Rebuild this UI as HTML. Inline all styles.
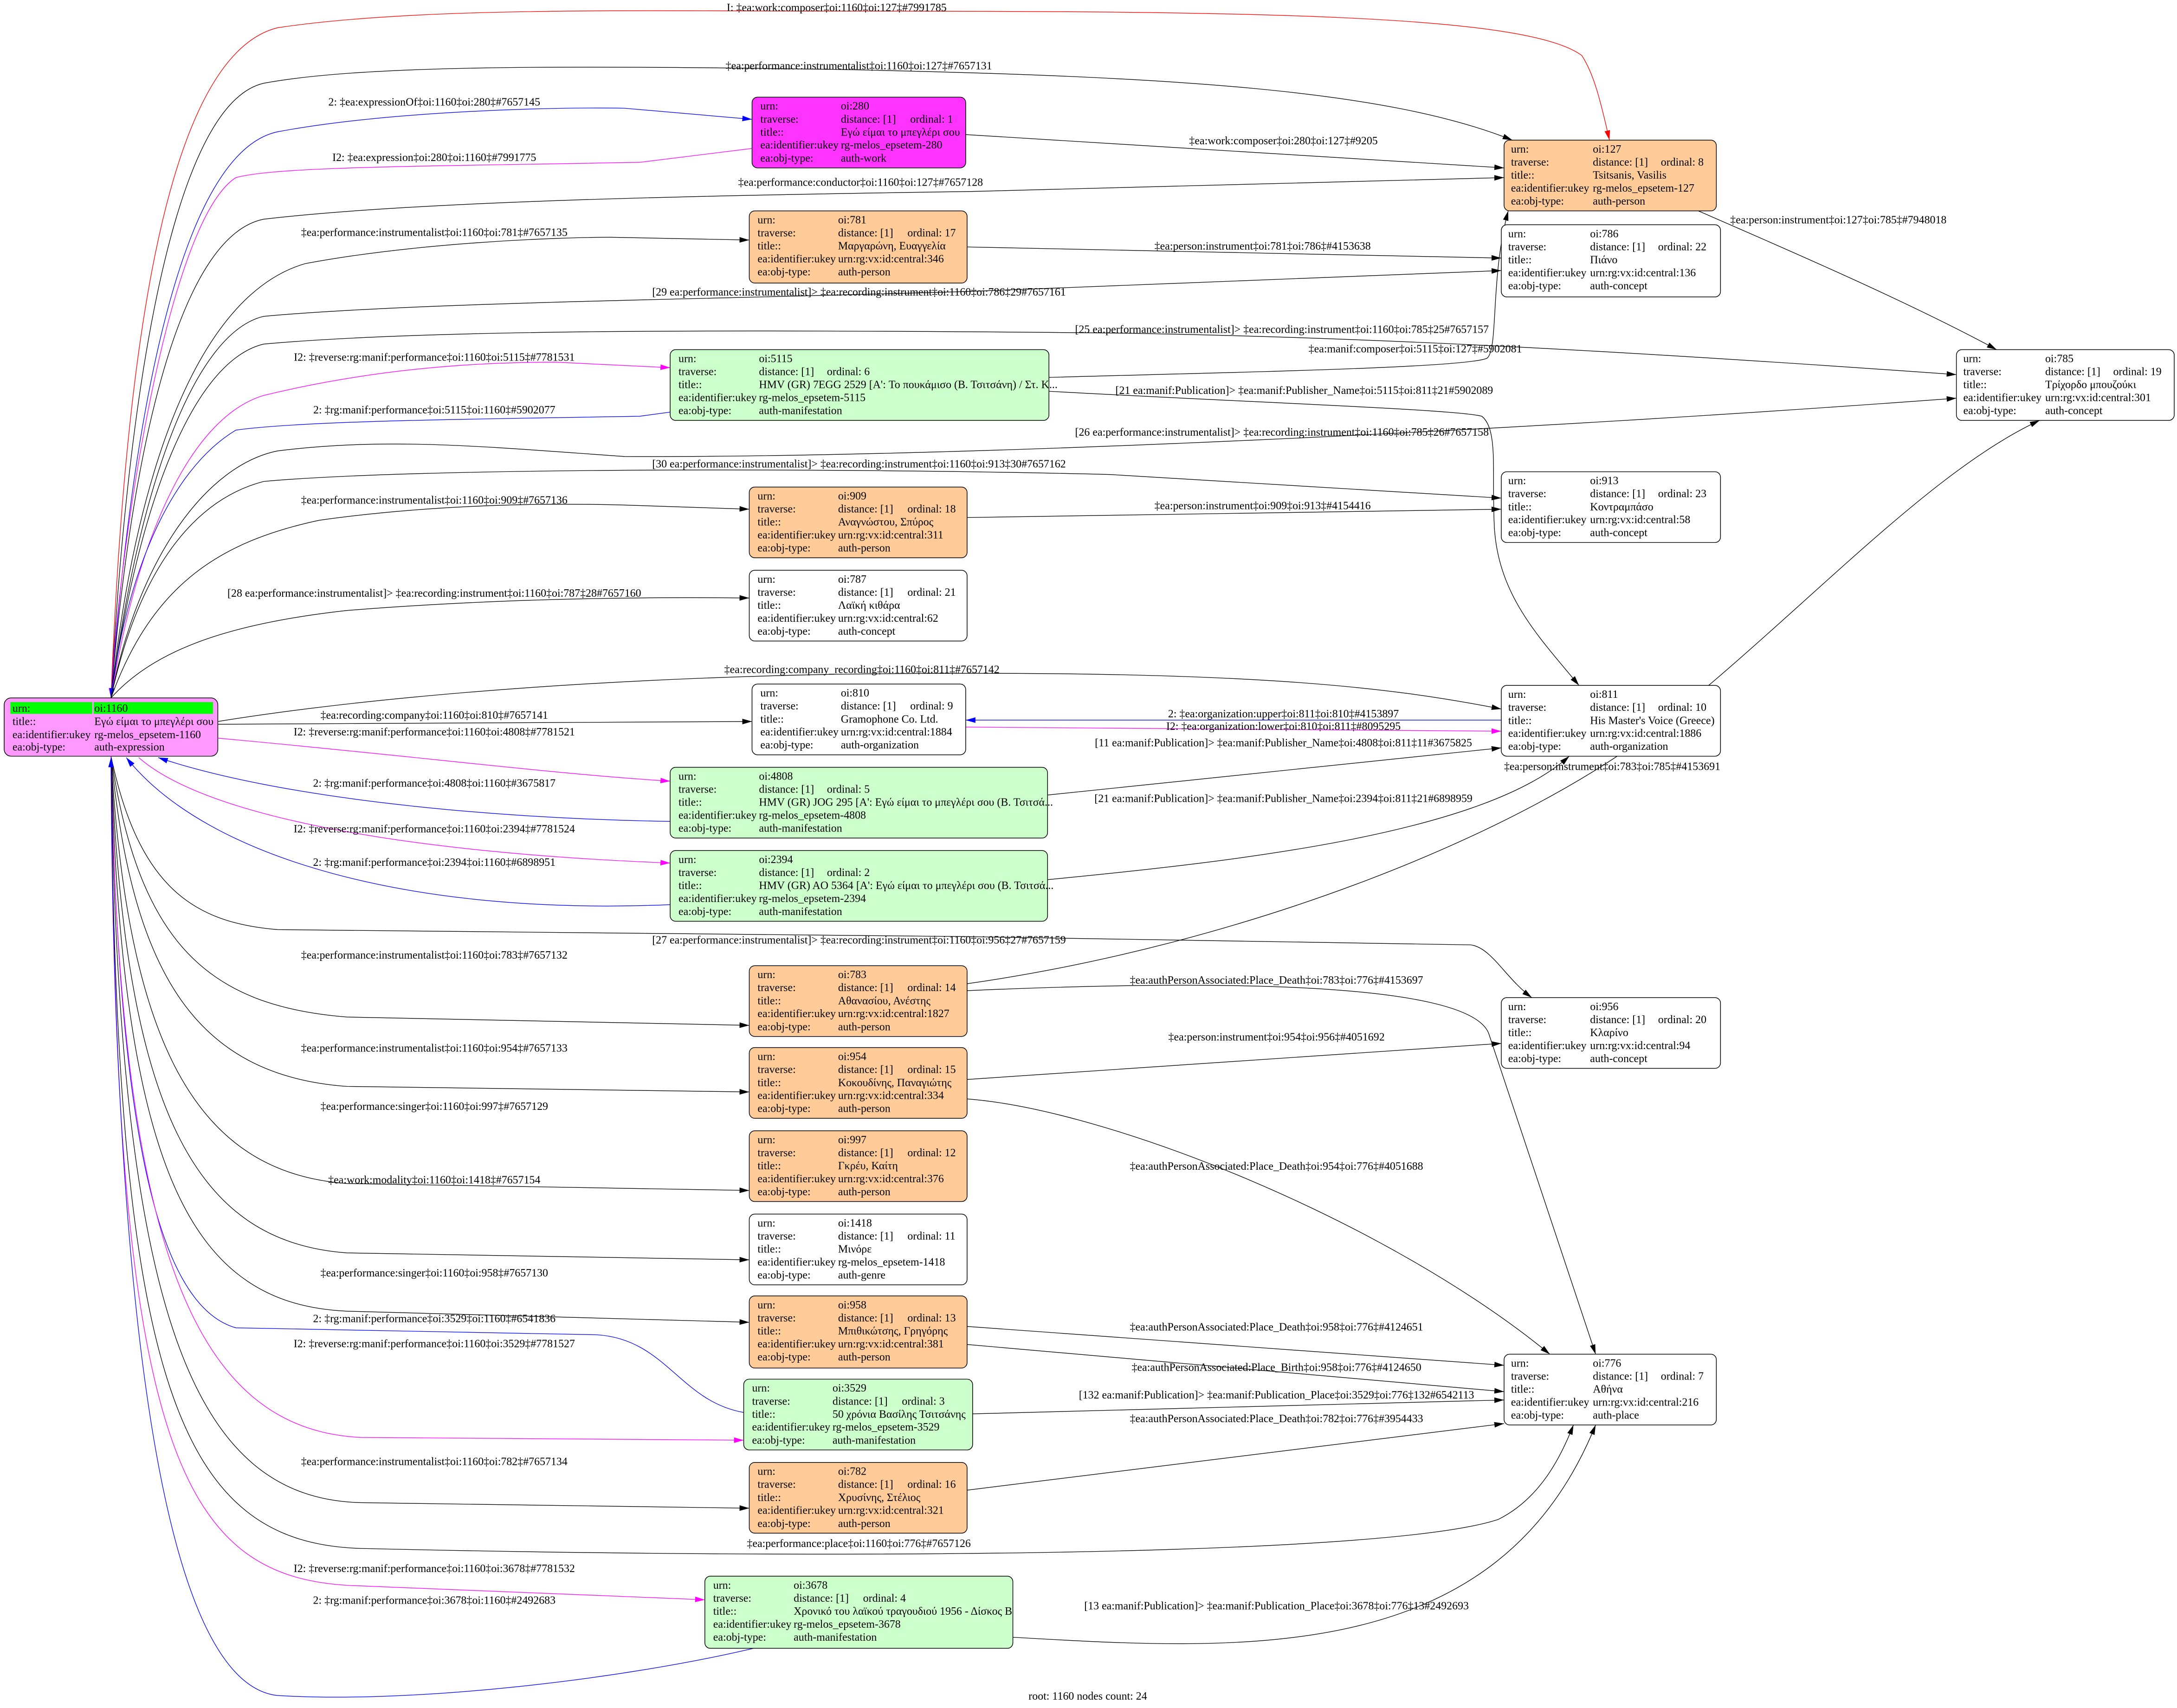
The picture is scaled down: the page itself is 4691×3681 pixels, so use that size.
<!DOCTYPE html>
<html><head><meta charset="utf-8">
<style>
html,body{margin:0;padding:0;background:#fff;}
svg{display:block;}
text{font-family:"Liberation Serif","DejaVu Serif","Noto Serif CJK SC",serif;font-size:8px;fill:#000;}
.e{fill:none;stroke:#000;stroke-width:0.45;}
.eb{fill:none;stroke:#0000ff;stroke-width:0.45;}
.em{fill:none;stroke:#ff00ff;stroke-width:0.45;}
.er{fill:none;stroke:#ff0000;stroke-width:0.45;}
.n{stroke:#000;stroke-width:0.5;}
.m{text-anchor:middle;}
.s{text-anchor:end;}
</style></head><body>
<svg xmlns="http://www.w3.org/2000/svg" width="4691" height="3681" viewBox="0 0 1569 1231" preserveAspectRatio="none">
<defs>
<marker id="ak" markerUnits="userSpaceOnUse" markerWidth="7" markerHeight="4" refX="7" refY="2" orient="auto"><path d="M0,0 L7,2 L0,4z" fill="#000"/></marker>
<marker id="ab" markerUnits="userSpaceOnUse" markerWidth="7" markerHeight="4" refX="7" refY="2" orient="auto"><path d="M0,0 L7,2 L0,4z" fill="#0000ff"/></marker>
<marker id="am" markerUnits="userSpaceOnUse" markerWidth="7" markerHeight="4" refX="7" refY="2" orient="auto"><path d="M0,0 L7,2 L0,4z" fill="#ff00ff"/></marker>
<marker id="ar" markerUnits="userSpaceOnUse" markerWidth="7" markerHeight="4" refX="7" refY="2" orient="auto"><path d="M0,0 L7,2 L0,4z" fill="#ff0000"/></marker>
</defs>
<rect width="1569" height="1231" fill="#fff"/>

<!-- edges -->
<path class="er" marker-end="url(#ar)" d="M80,503 C90,250 120,40 200,20 C300,5 450,8 600,8 C900,8 1100,10 1140,40 C1150,55 1155,80 1160,101"/>
<path class="e" marker-end="url(#ak)" d="M80,503 C92,280 125,75 190,60 C260,47 400,47 600,50 C850,55 1000,65 1090,101"/>
<path class="eb" marker-end="url(#ab)" d="M80,503 C95,300 130,110 200,95 C280,80 400,77 450,78 L542,86"/>
<path class="em" marker-end="url(#am)" d="M542,107 L461,117 C300,120 200,120 170,128 C120,160 85,400 80,503"/>
<path class="e" marker-end="url(#ak)" d="M80,503 C95,320 130,170 190,158 C300,145 500,141 700,138 L1084,128"/>
<path class="e" marker-end="url(#ak)" d="M80,503 C100,320 150,210 220,190 C300,175 400,171 440,171 L540,173"/>
<path class="e" marker-end="url(#ak)" d="M80,503 C100,350 140,240 190,228 C300,218 500,216 700,210 L1082,195"/>
<path class="e" marker-end="url(#ak)" d="M80,503 C100,360 140,260 190,248 C300,238 500,237 800,240 C1000,243 1200,255 1410,270"/>
<path class="em" marker-end="url(#am)" d="M80,503 C100,380 140,300 190,285 C260,268 330,261 400,261 L483,265"/>
<path class="eb" marker-end="url(#ab)" d="M483,297 L461,300 C350,302 220,303 170,310 C120,340 90,420 80,503"/>
<path class="e" marker-end="url(#ak)" d="M80,503 C100,400 150,335 200,325 C280,315 350,322 450,329 C700,330 1100,310 1410,287"/>
<path class="e" marker-end="url(#ak)" d="M80,503 C100,410 140,360 190,347 C300,337 600,337 800,342 L1082,359"/>
<path class="e" marker-end="url(#ak)" d="M80,503 C110,420 160,390 230,375 C300,365 380,362 450,364 L540,367"/>
<path class="e" marker-end="url(#ak)" d="M80,503 C110,470 160,450 250,440 C350,432 450,430 540,431"/>
<path class="e" marker-end="url(#ak)" d="M157,520 C250,505 400,490 600,486 C900,482 1000,495 1082,511"/>
<path class="e" marker-end="url(#ak)" d="M157,522 L542,520"/>
<path class="em" marker-end="url(#am)" d="M157,532 C300,545 400,558 483,563"/>
<path class="eb" marker-end="url(#ab)" d="M483,592 C350,590 200,575 114,546"/>
<path class="em" marker-end="url(#am)" d="M100,546 C150,590 300,615 483,622"/>
<path class="eb" marker-end="url(#ab)" d="M483,652 C300,660 150,620 91,546"/>
<path class="e" marker-end="url(#ak)" d="M80,545 C100,640 140,665 200,670 C400,672 800,675 1060,681 C1075,683 1085,705 1104,719"/>
<path class="e" marker-end="url(#ak)" d="M80,545 C100,680 150,725 250,733 L540,739"/>
<path class="e" marker-end="url(#ak)" d="M80,545 C95,700 140,775 250,783 L540,787"/>
<path class="e" marker-end="url(#ak)" d="M80,545 C92,750 140,845 250,853 L540,858"/>
<path class="e" marker-end="url(#ak)" d="M80,545 C90,800 140,895 250,903 L540,908"/>
<path class="e" marker-end="url(#ak)" d="M80,545 C88,850 140,940 250,945 L540,953"/>
<path class="eb" marker-end="url(#ab)" d="M536,1018 C490,1010 480,965 430,962 L170,957 C110,940 85,800 80,546"/>
<path class="em" marker-end="url(#am)" d="M80,545 C86,900 140,1030 260,1036 L536,1038"/>
<path class="e" marker-end="url(#ak)" d="M80,545 C85,950 140,1080 260,1083 L540,1087"/>
<path class="e" marker-end="url(#ak)" d="M80,545 C83,1000 130,1112 260,1116 C600,1124 1000,1122 1080,1095 C1110,1080 1125,1050 1134,1027"/>
<path class="em" marker-end="url(#am)" d="M80,545 C82,1050 130,1140 260,1143 L508,1153"/>
<path class="eb" marker-end="url(#ab)" d="M543,1188 C450,1210 300,1228 200,1222 C110,1212 82,900 80,546"/>

<path class="e" marker-end="url(#ak)" d="M696,97 L1084,121"/>
<path class="e" marker-end="url(#ak)" d="M697,178 L1082,186"/>
<path class="e" marker-end="url(#ak)" d="M697,373 L1082,367"/>
<path class="e" marker-end="url(#ak)" d="M1224,152 C1300,185 1380,220 1439,252"/>
<path class="e" marker-end="url(#ak)" d="M756,272 C900,268 1060,265 1072,258 C1080,250 1074,200 1087,152"/>
<path class="e" marker-end="url(#ak)" d="M756,282 C900,290 1050,295 1068,300 C1080,310 1075,340 1077,380 C1080,430 1110,460 1138,494"/>
<path class="eb" marker-end="url(#ab)" d="M1082,519 L696,519"/>
<path class="em" marker-end="url(#am)" d="M696,524 L1082,527"/>
<path class="e" marker-end="url(#ak)" d="M755,573 L1082,539"/>
<path class="e" marker-end="url(#ak)" d="M755,634 C900,620 1070,600 1131,545"/>
<path class="e" marker-end="url(#ak)" d="M697,709 C900,680 1100,600 1200,520 C1300,440 1390,340 1470,303"/>
<path class="e" marker-end="url(#ak)" d="M697,714 C900,705 1060,710 1073,745 L1150,976"/>
<path class="e" marker-end="url(#ak)" d="M697,778 L1082,752"/>
<path class="e" marker-end="url(#ak)" d="M697,792 C800,800 1000,880 1117,976"/>
<path class="e" marker-end="url(#ak)" d="M697,956 L1084,984"/>
<path class="e" marker-end="url(#ak)" d="M697,969 L1084,1003"/>
<path class="e" marker-end="url(#ak)" d="M701,1019 L1084,1009"/>
<path class="e" marker-end="url(#ak)" d="M697,1074 L1084,1026"/>
<path class="e" marker-end="url(#ak)" d="M730,1180 C900,1190 1080,1200 1150,1027"/>

<!-- edge labels -->
<text x="603" y="8" class="m">I: ‡ea:work:composer‡oi:1160‡oi:127‡#7991785</text>
<text x="523" y="50">‡ea:performance:instrumentalist‡oi:1160‡oi:127‡#7657131</text>
<text x="313" y="76" class="m">2: ‡ea:expressionOf‡oi:1160‡oi:280‡#7657145</text>
<text x="313" y="116" class="m">I2: ‡ea:expression‡oi:280‡oi:1160‡#7991775</text>
<text x="532" y="134">‡ea:performance:conductor‡oi:1160‡oi:127‡#7657128</text>
<text x="313" y="170" class="m">‡ea:performance:instrumentalist‡oi:1160‡oi:781‡#7657135</text>
<text x="470" y="213">[29 ea:performance:instrumentalist]&gt; ‡ea:recording:instrument‡oi:1160‡oi:786‡29#7657161</text>
<text x="1073" y="240" class="s">[25 ea:performance:instrumentalist]&gt; ‡ea:recording:instrument‡oi:1160‡oi:785‡25#7657157</text>
<text x="313" y="260" class="m">I2: ‡reverse:rg:manif:performance‡oi:1160‡oi:5115‡#7781531</text>
<text x="313" y="298" class="m">2: ‡rg:manif:performance‡oi:5115‡oi:1160‡#5902077</text>
<text x="1073" y="314" class="s">[26 ea:performance:instrumentalist]&gt; ‡ea:recording:instrument‡oi:1160‡oi:785‡26#7657158</text>
<text x="470" y="337">[30 ea:performance:instrumentalist]&gt; ‡ea:recording:instrument‡oi:1160‡oi:913‡30#7657162</text>
<text x="313" y="363" class="m">‡ea:performance:instrumentalist‡oi:1160‡oi:909‡#7657136</text>
<text x="313" y="430" class="m">[28 ea:performance:instrumentalist]&gt; ‡ea:recording:instrument‡oi:1160‡oi:787‡28#7657160</text>
<text x="522" y="485">‡ea:recording:company_recording‡oi:1160‡oi:811‡#7657142</text>
<text x="925" y="104" class="m">‡ea:work:composer‡oi:280‡oi:127‡#9205</text>
<text x="910" y="180" class="m">‡ea:person:instrument‡oi:781‡oi:786‡#4153638</text>
<text x="1247" y="161">‡ea:person:instrument‡oi:127‡oi:785‡#7948018</text>
<text x="1020" y="254" class="m">‡ea:manif:composer‡oi:5115‡oi:127‡#5902081</text>
<text x="940" y="284" class="m">[21 ea:manif:Publication]&gt; ‡ea:manif:Publisher_Name‡oi:5115‡oi:811‡21#5902089</text>
<text x="910" y="367" class="m">‡ea:person:instrument‡oi:909‡oi:913‡#4154416</text>
<text x="925" y="517" class="m">2: ‡ea:organization:upper‡oi:811‡oi:810‡#4153897</text>
<text x="925" y="526" class="m">I2: ‡ea:organization:lower‡oi:810‡oi:811‡#8095295</text>
<text x="925" y="538" class="m">[11 ea:manif:Publication]&gt; ‡ea:manif:Publisher_Name‡oi:4808‡oi:811‡11#3675825</text>
<text x="1084" y="555">‡ea:person:instrument‡oi:783‡oi:785‡#4153691</text>
<text x="925" y="578" class="m">[21 ea:manif:Publication]&gt; ‡ea:manif:Publisher_Name‡oi:2394‡oi:811‡21#6898959</text>
<text x="313" y="518" class="m">‡ea:recording:company‡oi:1160‡oi:810‡#7657141</text>
<text x="313" y="530" class="m">I2: ‡reverse:rg:manif:performance‡oi:1160‡oi:4808‡#7781521</text>
<text x="313" y="567" class="m">2: ‡rg:manif:performance‡oi:4808‡oi:1160‡#3675817</text>
<text x="313" y="600" class="m">I2: ‡reverse:rg:manif:performance‡oi:1160‡oi:2394‡#7781524</text>
<text x="313" y="624" class="m">2: ‡rg:manif:performance‡oi:2394‡oi:1160‡#6898951</text>
<text x="470" y="680">[27 ea:performance:instrumentalist]&gt; ‡ea:recording:instrument‡oi:1160‡oi:956‡27#7657159</text>
<text x="313" y="691" class="m">‡ea:performance:instrumentalist‡oi:1160‡oi:783‡#7657132</text>
<text x="920" y="709" class="m">‡ea:authPersonAssociated:Place_Death‡oi:783‡oi:776‡#4153697</text>
<text x="920" y="750" class="m">‡ea:person:instrument‡oi:954‡oi:956‡#4051692</text>
<text x="313" y="758" class="m">‡ea:performance:instrumentalist‡oi:1160‡oi:954‡#7657133</text>
<text x="313" y="800" class="m">‡ea:performance:singer‡oi:1160‡oi:997‡#7657129</text>
<text x="920" y="843" class="m">‡ea:authPersonAssociated:Place_Death‡oi:954‡oi:776‡#4051688</text>
<text x="313" y="853" class="m">‡ea:work:modality‡oi:1160‡oi:1418‡#7657154</text>
<text x="313" y="920" class="m">‡ea:performance:singer‡oi:1160‡oi:958‡#7657130</text>
<text x="313" y="953" class="m">2: ‡rg:manif:performance‡oi:3529‡oi:1160‡#6541836</text>
<text x="920" y="959" class="m">‡ea:authPersonAssociated:Place_Death‡oi:958‡oi:776‡#4124651</text>
<text x="313" y="971" class="m">I2: ‡reverse:rg:manif:performance‡oi:1160‡oi:3529‡#7781527</text>
<text x="920" y="988" class="m">‡ea:authPersonAssociated:Place_Birth‡oi:958‡oi:776‡#4124650</text>
<text x="920" y="1008" class="m">[132 ea:manif:Publication]&gt; ‡ea:manif:Publication_Place‡oi:3529‡oi:776‡132#6542113</text>
<text x="920" y="1025" class="m">‡ea:authPersonAssociated:Place_Death‡oi:782‡oi:776‡#3954433</text>
<text x="313" y="1056" class="m">‡ea:performance:instrumentalist‡oi:1160‡oi:782‡#7657134</text>
<text x="619" y="1115" class="m">‡ea:performance:place‡oi:1160‡oi:776‡#7657126</text>
<text x="313" y="1133" class="m">I2: ‡reverse:rg:manif:performance‡oi:1160‡oi:3678‡#7781532</text>
<text x="313" y="1156" class="m">2: ‡rg:manif:performance‡oi:3678‡oi:1160‡#2492683</text>
<text x="920" y="1160" class="m">[13 ea:manif:Publication]&gt; ‡ea:manif:Publication_Place‡oi:3678‡oi:776‡13#2492693</text>
<text x="784" y="1225" class="m">root: 1160 nodes count: 24</text>

<!-- root node -->
<g transform="translate(3,503)">
<rect class="n" width="154" height="42" rx="5" fill="#ff99ff"/>
<rect x="4.5" y="3" width="59" height="8.5" fill="#00ff00"/>
<rect x="64.5" y="3" width="86" height="8.5" fill="#00ff00"/>
<text x="6" y="10">urn:</text><text x="65" y="10">oi:1160</text>
<text x="6" y="19.5">title::</text><text x="65" y="19.5">Εγώ είμαι το μπεγλέρι σου</text>
<text x="6" y="29">ea:identifier:ukey</text><text x="65" y="29">rg-melos_epsetem-1160</text>
<text x="6" y="38">ea:obj-type:</text><text x="65" y="38">auth-expression</text>
</g>

<!-- 280 -->
<g transform="translate(542,70)"><rect class="n" width="154" height="51" rx="4" fill="#ff33ff"/>
<text x="6" y="9">urn:</text><text x="64" y="9">oi:280</text>
<text x="6" y="18.4">traverse:</text><text x="64" y="18.4">distance: [1]</text><text x="114" y="18.4">ordinal: 1</text>
<text x="6" y="27.8">title::</text><text x="64" y="27.8">Εγώ είμαι το μπεγλέρι σου</text>
<text x="6" y="37.1">ea:identifier:ukey</text><text x="64" y="37.1">rg-melos_epsetem-280</text>
<text x="6" y="46.5">ea:obj-type:</text><text x="64" y="46.5">auth-work</text></g>

<!-- 127 -->
<g transform="translate(1084,101)"><rect class="n" width="153" height="51" rx="4" fill="#ffcc99"/>
<text x="5" y="9">urn:</text><text x="64" y="9">oi:127</text>
<text x="5" y="18.4">traverse:</text><text x="64" y="18.4">distance: [1]</text><text x="113" y="18.4">ordinal: 8</text>
<text x="5" y="27.8">title::</text><text x="64" y="27.8">Tsitsanis, Vasilis</text>
<text x="5" y="37.1">ea:identifier:ukey</text><text x="64" y="37.1">rg-melos_epsetem-127</text>
<text x="5" y="46.5">ea:obj-type:</text><text x="64" y="46.5">auth-person</text></g>

<!-- 781 -->
<g transform="translate(540,152)"><rect class="n" width="157" height="52" rx="4" fill="#ffcc99"/>
<text x="6" y="9">urn:</text><text x="64" y="9">oi:781</text>
<text x="6" y="18.4">traverse:</text><text x="64" y="18.4">distance: [1]</text><text x="114" y="18.4">ordinal: 17</text>
<text x="6" y="27.8">title::</text><text x="64" y="27.8">Μαργαρώνη, Ευαγγελία</text>
<text x="6" y="37.1">ea:identifier:ukey</text><text x="64" y="37.1">urn:rg:vx:id:central:346</text>
<text x="6" y="46.5">ea:obj-type:</text><text x="64" y="46.5">auth-person</text></g>

<!-- 786 -->
<g transform="translate(1082,162)"><rect class="n" width="158" height="52" rx="4" fill="#fff"/>
<text x="5" y="9">urn:</text><text x="64" y="9">oi:786</text>
<text x="5" y="18.4">traverse:</text><text x="64" y="18.4">distance: [1]</text><text x="113" y="18.4">ordinal: 22</text>
<text x="5" y="27.8">title::</text><text x="64" y="27.8">Πιάνο</text>
<text x="5" y="37.1">ea:identifier:ukey</text><text x="64" y="37.1">urn:rg:vx:id:central:136</text>
<text x="5" y="46.5">ea:obj-type:</text><text x="64" y="46.5">auth-concept</text></g>

<!-- 5115 -->
<g transform="translate(483,252)"><rect class="n" width="273" height="51" rx="4" fill="#ccffcc"/>
<text x="6" y="9">urn:</text><text x="64" y="9">oi:5115</text>
<text x="6" y="18.4">traverse:</text><text x="64" y="18.4">distance: [1]</text><text x="113" y="18.4">ordinal: 6</text>
<text x="6" y="27.8">title::</text><text x="64" y="27.8">HMV (GR) 7EGG 2529 [A': Το πουκάμισο (Β. Τσιτσάνη) / Στ. Κ...</text>
<text x="6" y="37.1">ea:identifier:ukey</text><text x="64" y="37.1">rg-melos_epsetem-5115</text>
<text x="6" y="46.5">ea:obj-type:</text><text x="64" y="46.5">auth-manifestation</text></g>

<!-- 785 -->
<g transform="translate(1410,252)"><rect class="n" width="157" height="51" rx="4" fill="#fff"/>
<text x="5" y="9">urn:</text><text x="64" y="9">oi:785</text>
<text x="5" y="18.4">traverse:</text><text x="64" y="18.4">distance: [1]</text><text x="113" y="18.4">ordinal: 19</text>
<text x="5" y="27.8">title::</text><text x="64" y="27.8">Τρίχορδο μπουζούκι</text>
<text x="5" y="37.1">ea:identifier:ukey</text><text x="64" y="37.1">urn:rg:vx:id:central:301</text>
<text x="5" y="46.5">ea:obj-type:</text><text x="64" y="46.5">auth-concept</text></g>

<!-- 913 -->
<g transform="translate(1082,340)"><rect class="n" width="158" height="51" rx="4" fill="#fff"/>
<text x="5" y="9">urn:</text><text x="64" y="9">oi:913</text>
<text x="5" y="18.4">traverse:</text><text x="64" y="18.4">distance: [1]</text><text x="113" y="18.4">ordinal: 23</text>
<text x="5" y="27.8">title::</text><text x="64" y="27.8">Κοντραμπάσο</text>
<text x="5" y="37.1">ea:identifier:ukey</text><text x="64" y="37.1">urn:rg:vx:id:central:58</text>
<text x="5" y="46.5">ea:obj-type:</text><text x="64" y="46.5">auth-concept</text></g>

<!-- 909 -->
<g transform="translate(540,351)"><rect class="n" width="157" height="51" rx="4" fill="#ffcc99"/>
<text x="6" y="9">urn:</text><text x="64" y="9">oi:909</text>
<text x="6" y="18.4">traverse:</text><text x="64" y="18.4">distance: [1]</text><text x="114" y="18.4">ordinal: 18</text>
<text x="6" y="27.8">title::</text><text x="64" y="27.8">Αναγνώστου, Σπύρος</text>
<text x="6" y="37.1">ea:identifier:ukey</text><text x="64" y="37.1">urn:rg:vx:id:central:311</text>
<text x="6" y="46.5">ea:obj-type:</text><text x="64" y="46.5">auth-person</text></g>

<!-- 787 -->
<g transform="translate(540,411)"><rect class="n" width="157" height="51" rx="4" fill="#fff"/>
<text x="6" y="9">urn:</text><text x="64" y="9">oi:787</text>
<text x="6" y="18.4">traverse:</text><text x="64" y="18.4">distance: [1]</text><text x="114" y="18.4">ordinal: 21</text>
<text x="6" y="27.8">title::</text><text x="64" y="27.8">Λαϊκή κιθάρα</text>
<text x="6" y="37.1">ea:identifier:ukey</text><text x="64" y="37.1">urn:rg:vx:id:central:62</text>
<text x="6" y="46.5">ea:obj-type:</text><text x="64" y="46.5">auth-concept</text></g>

<!-- 810 -->
<g transform="translate(542,493)"><rect class="n" width="154" height="51" rx="4" fill="#fff"/>
<text x="6" y="9">urn:</text><text x="64" y="9">oi:810</text>
<text x="6" y="18.4">traverse:</text><text x="64" y="18.4">distance: [1]</text><text x="114" y="18.4">ordinal: 9</text>
<text x="6" y="27.8">title::</text><text x="64" y="27.8">Gramophone Co. Ltd.</text>
<text x="6" y="37.1">ea:identifier:ukey</text><text x="64" y="37.1">urn:rg:vx:id:central:1884</text>
<text x="6" y="46.5">ea:obj-type:</text><text x="64" y="46.5">auth-organization</text></g>

<!-- 811 -->
<g transform="translate(1082,494)"><rect class="n" width="158" height="51" rx="4" fill="#fff"/>
<text x="5" y="9">urn:</text><text x="64" y="9">oi:811</text>
<text x="5" y="18.4">traverse:</text><text x="64" y="18.4">distance: [1]</text><text x="113" y="18.4">ordinal: 10</text>
<text x="5" y="27.8">title::</text><text x="64" y="27.8">His Master's Voice (Greece)</text>
<text x="5" y="37.1">ea:identifier:ukey</text><text x="64" y="37.1">urn:rg:vx:id:central:1886</text>
<text x="5" y="46.5">ea:obj-type:</text><text x="64" y="46.5">auth-organization</text></g>

<!-- 4808 -->
<g transform="translate(483,553)"><rect class="n" width="272" height="51" rx="4" fill="#ccffcc"/>
<text x="6" y="9">urn:</text><text x="64" y="9">oi:4808</text>
<text x="6" y="18.4">traverse:</text><text x="64" y="18.4">distance: [1]</text><text x="113" y="18.4">ordinal: 5</text>
<text x="6" y="27.8">title::</text><text x="64" y="27.8">HMV (GR) JOG 295 [A': Εγώ είμαι το μπεγλέρι σου (Β. Τσιτσά...</text>
<text x="6" y="37.1">ea:identifier:ukey</text><text x="64" y="37.1">rg-melos_epsetem-4808</text>
<text x="6" y="46.5">ea:obj-type:</text><text x="64" y="46.5">auth-manifestation</text></g>

<!-- 2394 -->
<g transform="translate(483,613)"><rect class="n" width="272" height="51" rx="4" fill="#ccffcc"/>
<text x="6" y="9">urn:</text><text x="64" y="9">oi:2394</text>
<text x="6" y="18.4">traverse:</text><text x="64" y="18.4">distance: [1]</text><text x="113" y="18.4">ordinal: 2</text>
<text x="6" y="27.8">title::</text><text x="64" y="27.8">HMV (GR) AO 5364 [A': Εγώ είμαι το μπεγλέρι σου (Β. Τσιτσά...</text>
<text x="6" y="37.1">ea:identifier:ukey</text><text x="64" y="37.1">rg-melos_epsetem-2394</text>
<text x="6" y="46.5">ea:obj-type:</text><text x="64" y="46.5">auth-manifestation</text></g>

<!-- 783 -->
<g transform="translate(540,696)"><rect class="n" width="157" height="51" rx="4" fill="#ffcc99"/>
<text x="6" y="9">urn:</text><text x="64" y="9">oi:783</text>
<text x="6" y="18.4">traverse:</text><text x="64" y="18.4">distance: [1]</text><text x="114" y="18.4">ordinal: 14</text>
<text x="6" y="27.8">title::</text><text x="64" y="27.8">Αθανασίου, Ανέστης</text>
<text x="6" y="37.1">ea:identifier:ukey</text><text x="64" y="37.1">urn:rg:vx:id:central:1827</text>
<text x="6" y="46.5">ea:obj-type:</text><text x="64" y="46.5">auth-person</text></g>

<!-- 956 -->
<g transform="translate(1082,719)"><rect class="n" width="158" height="51" rx="4" fill="#fff"/>
<text x="5" y="9">urn:</text><text x="64" y="9">oi:956</text>
<text x="5" y="18.4">traverse:</text><text x="64" y="18.4">distance: [1]</text><text x="113" y="18.4">ordinal: 20</text>
<text x="5" y="27.8">title::</text><text x="64" y="27.8">Κλαρίνο</text>
<text x="5" y="37.1">ea:identifier:ukey</text><text x="64" y="37.1">urn:rg:vx:id:central:94</text>
<text x="5" y="46.5">ea:obj-type:</text><text x="64" y="46.5">auth-concept</text></g>

<!-- 954 -->
<g transform="translate(540,755)"><rect class="n" width="157" height="51" rx="4" fill="#ffcc99"/>
<text x="6" y="9">urn:</text><text x="64" y="9">oi:954</text>
<text x="6" y="18.4">traverse:</text><text x="64" y="18.4">distance: [1]</text><text x="114" y="18.4">ordinal: 15</text>
<text x="6" y="27.8">title::</text><text x="64" y="27.8">Κοκουδίνης, Παναγιώτης</text>
<text x="6" y="37.1">ea:identifier:ukey</text><text x="64" y="37.1">urn:rg:vx:id:central:334</text>
<text x="6" y="46.5">ea:obj-type:</text><text x="64" y="46.5">auth-person</text></g>

<!-- 997 -->
<g transform="translate(540,815)"><rect class="n" width="157" height="51" rx="4" fill="#ffcc99"/>
<text x="6" y="9">urn:</text><text x="64" y="9">oi:997</text>
<text x="6" y="18.4">traverse:</text><text x="64" y="18.4">distance: [1]</text><text x="114" y="18.4">ordinal: 12</text>
<text x="6" y="27.8">title::</text><text x="64" y="27.8">Γκρέυ, Καίτη</text>
<text x="6" y="37.1">ea:identifier:ukey</text><text x="64" y="37.1">urn:rg:vx:id:central:376</text>
<text x="6" y="46.5">ea:obj-type:</text><text x="64" y="46.5">auth-person</text></g>

<!-- 1418 -->
<g transform="translate(540,875)"><rect class="n" width="157" height="51" rx="4" fill="#fff"/>
<text x="6" y="9">urn:</text><text x="64" y="9">oi:1418</text>
<text x="6" y="18.4">traverse:</text><text x="64" y="18.4">distance: [1]</text><text x="114" y="18.4">ordinal: 11</text>
<text x="6" y="27.8">title::</text><text x="64" y="27.8">Μινόρε</text>
<text x="6" y="37.1">ea:identifier:ukey</text><text x="64" y="37.1">rg-melos_epsetem-1418</text>
<text x="6" y="46.5">ea:obj-type:</text><text x="64" y="46.5">auth-genre</text></g>

<!-- 958 -->
<g transform="translate(540,934)"><rect class="n" width="157" height="52" rx="4" fill="#ffcc99"/>
<text x="6" y="9">urn:</text><text x="64" y="9">oi:958</text>
<text x="6" y="18.4">traverse:</text><text x="64" y="18.4">distance: [1]</text><text x="114" y="18.4">ordinal: 13</text>
<text x="6" y="27.8">title::</text><text x="64" y="27.8">Μπιθικώτσης, Γρηγόρης</text>
<text x="6" y="37.1">ea:identifier:ukey</text><text x="64" y="37.1">urn:rg:vx:id:central:381</text>
<text x="6" y="46.5">ea:obj-type:</text><text x="64" y="46.5">auth-person</text></g>

<!-- 3529 -->
<g transform="translate(536,994)"><rect class="n" width="165" height="51" rx="4" fill="#ccffcc"/>
<text x="6" y="9">urn:</text><text x="64" y="9">oi:3529</text>
<text x="6" y="18.4">traverse:</text><text x="64" y="18.4">distance: [1]</text><text x="114" y="18.4">ordinal: 3</text>
<text x="6" y="27.8">title::</text><text x="64" y="27.8">50 χρόνια Βασίλης Τσιτσάνης</text>
<text x="6" y="37.1">ea:identifier:ukey</text><text x="64" y="37.1">rg-melos_epsetem-3529</text>
<text x="6" y="46.5">ea:obj-type:</text><text x="64" y="46.5">auth-manifestation</text></g>

<!-- 782 -->
<g transform="translate(540,1054)"><rect class="n" width="157" height="51" rx="4" fill="#ffcc99"/>
<text x="6" y="9">urn:</text><text x="64" y="9">oi:782</text>
<text x="6" y="18.4">traverse:</text><text x="64" y="18.4">distance: [1]</text><text x="114" y="18.4">ordinal: 16</text>
<text x="6" y="27.8">title::</text><text x="64" y="27.8">Χρυσίνης, Στέλιος</text>
<text x="6" y="37.1">ea:identifier:ukey</text><text x="64" y="37.1">urn:rg:vx:id:central:321</text>
<text x="6" y="46.5">ea:obj-type:</text><text x="64" y="46.5">auth-person</text></g>

<!-- 776 -->
<g transform="translate(1084,976)"><rect class="n" width="153" height="51" rx="4" fill="#fff"/>
<text x="5" y="9">urn:</text><text x="64" y="9">oi:776</text>
<text x="5" y="18.4">traverse:</text><text x="64" y="18.4">distance: [1]</text><text x="113" y="18.4">ordinal: 7</text>
<text x="5" y="27.8">title::</text><text x="64" y="27.8">Αθήνα</text>
<text x="5" y="37.1">ea:identifier:ukey</text><text x="64" y="37.1">urn:rg:vx:id:central:216</text>
<text x="5" y="46.5">ea:obj-type:</text><text x="64" y="46.5">auth-place</text></g>

<!-- 3678 -->
<g transform="translate(508,1136)"><rect class="n" width="222" height="52" rx="4" fill="#ccffcc"/>
<text x="6" y="9">urn:</text><text x="64" y="9">oi:3678</text>
<text x="6" y="18.4">traverse:</text><text x="64" y="18.4">distance: [1]</text><text x="114" y="18.4">ordinal: 4</text>
<text x="6" y="27.8">title::</text><text x="64" y="27.8">Χρονικό του λαϊκού τραγουδιού 1956 - Δίσκος Β</text>
<text x="6" y="37.1">ea:identifier:ukey</text><text x="64" y="37.1">rg-melos_epsetem-3678</text>
<text x="6" y="46.5">ea:obj-type:</text><text x="64" y="46.5">auth-manifestation</text></g>
</svg>
</body></html>
